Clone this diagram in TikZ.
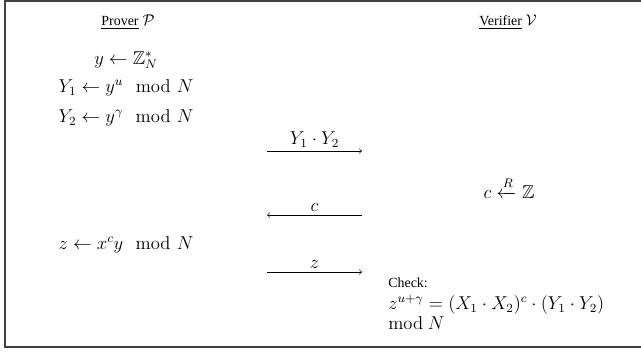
\documentclass[tikz,border=0pt]{standalone}
\usepackage{amsmath,amssymb}
\usepackage[no-math]{fontspec}
\setmainfont{Liberation Serif}
\begin{document}
\begin{tikzpicture}[
        x=0.645pt, y=-0.645pt,
        every node/.style={font=\large},
        frame/.style={draw=black!75, line width=0.8pt},
        party/.style={font=\normalsize},
        msg/.style={-to, thin},
        lbl/.style={above=1pt, inner sep=1pt}
    ]
    \useasboundingbox (0,0) rectangle (641,352);
    \draw[frame] (641,1) -- (5,1) -- (5,347) -- (641,347);
    \node[party] (prover) at (128,22) {{\small\underline{Prover}} $\mathcal{P}$};
    \node[party] (verifier) at (508,22) {{\small\underline{Verifier}} $\mathcal{V}$};
    \node (ysel) at (126,60) {$y \leftarrow \mathbb{Z}_N^*$};
    \node (yone) at (126,88) {$Y_1 \leftarrow y^u \mod N$};
    \node (ytwo) at (126,118) {$Y_2 \leftarrow y^\gamma \mod N$};
    \node (zresp) at (126,245) {$z \leftarrow x^c y \mod N$};
    \node (chal) at (509,188) {$c \xleftarrow{R} \mathbb{Z}$};
    \node[anchor=north west, align=left, inner sep=0pt] (check) at (388,278)
        {{\small Check:}\\ $z^{u+\gamma} = (X_1 \cdot X_2)^c \cdot (Y_1 \cdot Y_2)$\\[-1pt] $\mathrm{mod}\ N$};
    \coordinate (commitL) at (267,151);
    \coordinate (commitR) at (362,151);
    \coordinate (challL) at (267,215);
    \coordinate (challR) at (362,215);
    \coordinate (respL) at (267,272);
    \coordinate (respR) at (362,272);
    \draw[msg] (commitL) -- node[lbl] {$Y_1 \cdot Y_2$} (commitR);
    \draw[msg] (challR) -- node[lbl] {$c$} (challL);
    \draw[msg] (respL) -- node[lbl] {$z$} (respR);
\end{tikzpicture}
\end{document}
